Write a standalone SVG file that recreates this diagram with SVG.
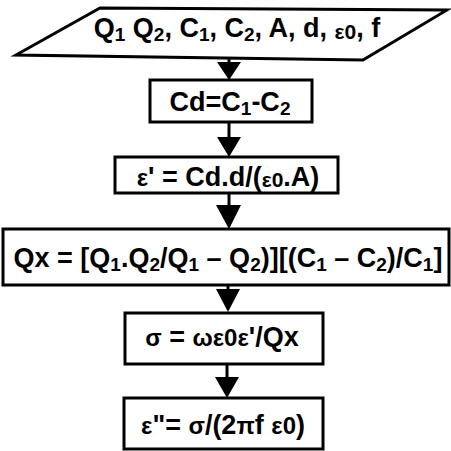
<svg xmlns="http://www.w3.org/2000/svg" width="451" height="451" viewBox="0 0 451 451">
<style>
.box{fill:#fff;stroke:#000;stroke-width:3}
.t{font-family:"Liberation Sans",Arial,sans-serif;font-weight:bold;font-size:27px;fill:#000;text-anchor:middle}
.s{font-size:19px}
.g{font-size:24px}
.e{font-size:21px}
.ln{stroke:#000;stroke-width:3;fill:none}
.hd{fill:#000}
</style>
<rect width="451" height="451" fill="#fff"/>
<g id="connectors">
<line class="ln" x1="229" y1="56" x2="229" y2="63"/><polygon class="hd" points="217,62 241,62 229,80"/>
<line class="ln" x1="229" y1="122" x2="229" y2="138"/><polygon class="hd" points="217,137 241,137 229,157"/>
<line class="ln" x1="229" y1="193" x2="229" y2="206"/><polygon class="hd" points="216,205 241,205 229,229"/>
<line class="ln" x1="228" y1="285" x2="228" y2="290"/><polygon class="hd" points="216,289 240,289 228,312"/>
<line class="ln" x1="227" y1="364" x2="227" y2="378"/><polygon class="hd" points="215,377 239,377 227,398"/>
</g>
<g id="input">
<polygon class="box" points="100,8 447,10 363,60 16,55"/>
<text class="t" x="237" y="37">Q<tspan class="s" dy="4">1</tspan><tspan dy="-4"> Q</tspan><tspan class="s" dy="4">2</tspan><tspan dy="-4">, C</tspan><tspan class="s" dy="4">1</tspan><tspan dy="-4">, C</tspan><tspan class="s" dy="4">2</tspan><tspan dy="-4">, A, d, </tspan><tspan class="e" dy="2">ε0</tspan><tspan dy="-2">, f</tspan></text>
</g>
<g id="cd">
<rect class="box" x="150" y="80" width="162" height="42"/>
<text class="t" x="230" y="111">Cd=C<tspan class="s" dy="4">1</tspan><tspan dy="-4">-C</tspan><tspan class="s" dy="4">2</tspan></text>
</g>
<g id="eps1">
<rect class="box" x="115" y="157" width="223" height="36"/>
<text class="t" x="228" y="186"><tspan class="g">ε</tspan>' = Cd.d/(<tspan class="e" dy="1">ε0</tspan><tspan dy="-1">.A)</tspan></text>
</g>
<g id="qx">
<rect class="box" x="3" y="229" width="446" height="56"/>
<text class="t" x="228" y="267">Qx = [Q<tspan class="s" dy="4">1</tspan><tspan dy="-4">.Q</tspan><tspan class="s" dy="4">2</tspan><tspan dy="-4">/Q</tspan><tspan class="s" dy="4">1</tspan><tspan dy="-4"> – Q</tspan><tspan class="s" dy="4">2</tspan><tspan dy="-4">)][(C</tspan><tspan class="s" dy="4">1</tspan><tspan dy="-4"> – C</tspan><tspan class="s" dy="4">2</tspan><tspan dy="-4">)/C</tspan><tspan class="s" dy="4">1</tspan><tspan dy="-4">]</tspan></text>
</g>
<g id="sigma">
<rect class="box" x="125" y="313" width="198" height="51"/>
<text class="t" x="222" y="346"><tspan class="g">σ</tspan> = <tspan class="g">ωε0ε</tspan>'/Qx</text>
</g>
<g id="eps2">
<rect class="box" x="124" y="398" width="199" height="51"/>
<text class="t" x="223" y="434"><tspan class="g">ε</tspan>"= <tspan class="g">σ</tspan>/(2<tspan class="g">π</tspan>f <tspan class="g">ε0</tspan>)</text>
</g>
</svg>
